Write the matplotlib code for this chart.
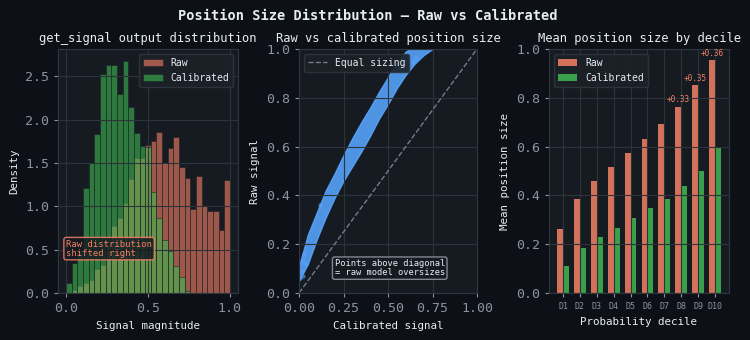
import numpy as np
import matplotlib.pyplot as plt

plt.rcParams['font.family'] = ['DejaVu Sans Mono', 'DejaVu Sans']

BG = '#0d1117'
PANEL = '#161b22'
GRID = '#2d333b'
TXT = '#e6edf3'
MUTED = '#8b949e'
RAW_C = '#f78166'
CAL_C = '#3fb950'
BLUE = '#58a6ff'

# histogram of get_signal output (29 bins on [0, 1], density)
n_bins = 29
raw_density = [0.00, 0.03, 0.08, 0.12, 0.15, 0.28, 0.32, 0.54, 0.77, 0.87,
               1.04, 1.32, 1.56, 1.56, 1.71, 1.75, 1.86, 1.50, 1.67, 1.80,
               1.45, 1.33, 0.97, 1.35, 1.00, 0.95, 0.95, 0.73, 1.30]
cal_density = [0.12, 0.35, 0.50, 1.21, 1.50, 1.83, 2.53, 2.63, 2.63, 2.30,
               2.68, 2.15, 1.85, 1.69, 1.68, 1.16, 0.87, 0.61, 0.49, 0.31,
               0.19, 0.02, 0.00, 0.00, 0.00, 0.00, 0.00, 0.00, 0.00]

# raw vs calibrated scatter band
band_cal = [0.00, 0.05, 0.10, 0.15, 0.20, 0.25, 0.30, 0.35, 0.40, 0.45,
            0.50, 0.55, 0.60, 0.65, 0.70, 0.75]
band_raw_lo = [0.05, 0.12, 0.22, 0.31, 0.39, 0.46, 0.52, 0.58, 0.645, 0.715,
               0.775, 0.84, 0.895, 0.94, 0.975, 1.00]
band_raw_hi = [0.11, 0.24, 0.33, 0.42, 0.49, 0.565, 0.635, 0.70, 0.76, 0.825,
               0.885, 0.945, 0.99, 1.01, 1.01, 1.01]
stray_cal = [0.005, 0.01, 0.02, 0.03, 0.04, 0.02, 0.12, 0.55, 0.64, 0.66]
stray_raw = [0.06, 0.09, 0.07, 0.16, 0.12, 0.13, 0.36, 0.93, 0.945, 0.965]

# mean position size by probability decile
deciles = ['D1', 'D2', 'D3', 'D4', 'D5', 'D6', 'D7', 'D8', 'D9', 'D10']
raw_mean = [0.263, 0.386, 0.458, 0.518, 0.573, 0.633, 0.692, 0.763, 0.851, 0.955]
cal_mean = [0.109, 0.183, 0.231, 0.267, 0.306, 0.350, 0.386, 0.438, 0.498, 0.598]


def style(ax, title, xlabel, ylabel):
    ax.set_facecolor(PANEL)
    ax.set_title(title, color=TXT, fontsize=8.7, pad=5)
    ax.set_xlabel(xlabel, color=TXT, fontsize=7.8)
    ax.set_ylabel(ylabel, color=TXT, fontsize=7.8)
    ax.tick_params(colors=MUTED, labelsize=9.5, length=3)
    for s in ax.spines.values():
        s.set_color('#30363d')
    ax.grid(True, color=GRID, linewidth=0.8)


def legend(ax, loc):
    lg = ax.legend(loc=loc, fontsize=7, facecolor='#1c2128', edgecolor='#30363d',
                   framealpha=0.9)
    for t in lg.get_texts():
        t.set_color(TXT)


fig = plt.figure(figsize=(7.5, 3.4), dpi=100)
fig.patch.set_facecolor(BG)
W, H = 750, 340
ax1 = fig.add_axes([58 / W, 47 / H, 180 / W, 244 / H])
ax2 = fig.add_axes([299 / W, 47 / H, 178 / W, 244 / H])
ax3 = fig.add_axes([549 / W, 47 / H, 180 / W, 244 / H])

fig.suptitle('Position Size Distribution — Raw vs Calibrated', color=TXT,
             fontsize=9.8, fontweight='bold', x=0.49, y=0.975)

# panel 1
edges = np.linspace(0, 1, n_bins + 1)
centers = (edges[:-1] + edges[1:]) / 2
ax1.hist(centers, bins=edges, weights=raw_density, color=RAW_C, alpha=0.6,
         edgecolor=PANEL, linewidth=0.6, label='Raw')
ax1.hist(centers, bins=edges, weights=cal_density, color=CAL_C, alpha=0.6,
         edgecolor=PANEL, linewidth=0.6, label='Calibrated')
style(ax1, 'get_signal output distribution', 'Signal magnitude', 'Density')
ax1.set_xticks([0.0, 0.5, 1.0])
legend(ax1, 'upper right')
ax1.text(0.045, 0.145, 'Raw distribution\nshifted right', transform=ax1.transAxes,
         color=RAW_C, fontsize=6.4, va='bottom', linespacing=1.0,
         bbox=dict(boxstyle='round,pad=0.25', facecolor=PANEL, edgecolor=RAW_C,
                   alpha=0.85))

# panel 2
ax2.fill_between(band_cal, band_raw_lo, band_raw_hi, color=BLUE, alpha=0.88,
                 linewidth=1.0, edgecolor=BLUE)
ax2.scatter(stray_cal, stray_raw, s=10, color=BLUE, alpha=0.55, linewidths=0)
ax2.axline((0, 0), slope=1, color=MUTED, linestyle='--', linewidth=1,
           alpha=0.8, label='Equal sizing')
style(ax2, 'Raw vs calibrated position size', 'Calibrated signal', 'Raw signal')
ax2.set_xlim(0, 1)
ax2.set_ylim(0, 1)
ax2.set_xticks([0, 0.25, 0.5, 0.75, 1.0])
legend(ax2, 'upper left')
ax2.text(0.2, 0.065, 'Points above diagonal\n= raw model oversizes',
         transform=ax2.transAxes, color=TXT, fontsize=6.3, va='bottom',
         linespacing=1.0,
         bbox=dict(boxstyle='round,pad=0.25', facecolor=PANEL, edgecolor=MUTED,
                   alpha=0.9))

# panel 3
x = np.arange(len(deciles))
w = 0.35
ax3.bar(x - w / 2, raw_mean, w, color=RAW_C, alpha=0.85, label='Raw')
ax3.bar(x + w / 2, cal_mean, w, color=CAL_C, alpha=0.85, label='Calibrated')
for i in range(7, 10):
    ax3.text(x[i] - w / 2, raw_mean[i] + 0.01, f'+{raw_mean[i] - cal_mean[i]:.2f}',
             color=RAW_C, fontsize=5.5, ha='center', va='bottom')
style(ax3, 'Mean position size by decile', 'Probability decile', 'Mean position size')
ax3.set_ylim(0, 1.0)
ax3.set_xticks(x)
ax3.set_xticklabels(deciles, fontsize=6)
legend(ax3, 'upper left')

fig.savefig('out.png', dpi=100, facecolor=BG)
